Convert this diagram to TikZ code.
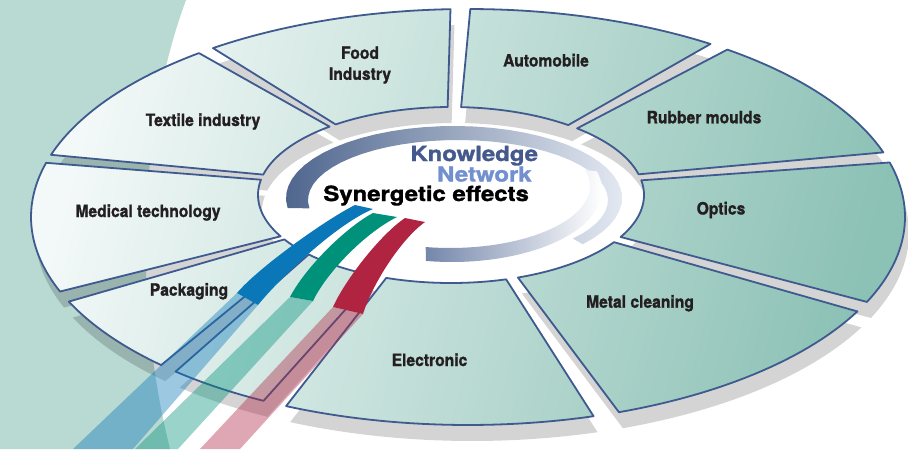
\documentclass[tikz,border=0pt]{standalone}
\usepackage{fontspec}
\setmainfont{TeX Gyre Heros}
\newfontfamily\labelfont[FakeStretch=0.92,FakeBold=1.2]{TeX Gyre Heros}
\newfontfamily\widefont[FakeStretch=1.15,FakeBold=1.5]{TeX Gyre Heros}
\usepackage{xcolor}
\usepackage{tikz}
\usetikzlibrary{calc}
\usetikzlibrary{positioning}

\definecolor{tealbg}{HTML}{B9D9D3}
\definecolor{segline}{HTML}{3E5A8F}
\definecolor{segleft}{HTML}{F3F9F8}
\definecolor{segright}{HTML}{8CC1B5}
\definecolor{knowblue}{HTML}{455A8C}
\definecolor{netblue}{HTML}{7290CF}
\definecolor{ribblue}{HTML}{0A77B8}
\definecolor{ribgreen}{HTML}{00917A}
\definecolor{ribred}{HTML}{B02441}
\definecolor{swdark}{HTML}{4F668E}
\definecolor{swmid}{HTML}{7486AA}
\definecolor{swlight}{HTML}{E3E8F1}
\definecolor{txt}{HTML}{231F20}

% one piece of the ring: outer angles #1..#2, inner angles #3..#4
\newcommand{\ringseg}[4]{plot[domain=#1:#2,samples=30] ({468+437*cos(\x)},{217-208*sin(\x)}) -- plot[domain=#4:#3,samples=30] ({451+193*cos(\x)},{195-88*sin(\x)}) -- cycle}
\newcommand{\allsegs}{%
  \ringseg{164.9}{201}{170}{208}     % medical
  \ringseg{128}{162.6}{129}{166.6}   % textile
  \ringseg{92.3}{125.7}{91}{126.7}   % food
  \ringseg{56.3}{89.7}{52.6}{87}     % automobile
  \ringseg{18.1}{53.6}{13.6}{49.2}   % rubber
  \ringseg{-24.1}{15.2}{-28.5}{9.6}  % optics
  \ringseg{-69.8}{-27}{-69.7}{-32.4} % metal
  \ringseg{-114.6}{-73.3}{-109.6}{-73.4} % electronic
  \ringseg{-132}{-117.9}{-137.5}{-113}   % (no label)
  \ringseg{-156}{-134.6}{-149.7}{-141}   % packaging
}

\begin{document}
\begin{tikzpicture}[x=0.5pt,y=-0.5pt]
  \tikzstyle{lbl}=[font=\labelfont\bfseries\fontsize{8.5}{10.5}\selectfont, text=txt, align=center, inner sep=0pt]
  \tikzstyle{ctr}=[font=\widefont\bfseries\fontsize{10.4}{12}\selectfont, inner sep=0pt]
  \tikzstyle{tail}=[opacity=0.4]
  \useasboundingbox (0,0) rectangle (908,449);
  \fill[white] (0,0) rectangle (908,449);
  % teal band on the left
  \fill[tealbg] (0,0) -- (186,0) .. controls (145,110) and (128,280) .. (170,449) -- (0,449) -- cycle;

  % shadow of the ring
  \fill[black,opacity=0.17,shift={(4,16)}] \allsegs;

  % the ring pieces
  \begin{scope}
    \clip \allsegs;
    \shade[left color=segleft,right color=segright,shading angle=75] (20,0) rectangle (915,440);
  \end{scope}
  \draw[segline,line width=0.9pt,line join=round] \allsegs;

  % swooshes in the middle
  \shade[left color=swdark,right color=swlight] plot[domain=188:-40,samples=40] ({454+168*cos(\x)},{198-72*sin(\x)}) -- plot[domain=-40:188,samples=40] ({458+150*cos(\x)},{200-60*sin(\x)}) -- cycle;
  \shade[left color=swmid,right color=white] plot[domain=-100:15,samples=40] ({452+150*cos(\x)},{190-72*sin(\x)}) -- plot[domain=15:-100,samples=40] ({450+140*cos(\x)},{186-62*sin(\x)}) -- cycle;

  \node[ctr,text=knowblue,anchor=base west] (know) at (410,161) {Knowledge};
  \node[ctr,text=netblue,anchor=base east]  (net)  at (532,181.5) {Network};
  \node[ctr,text=black,anchor=base west]    (syn)  at (323,201) {Synergetic effects};

  % ribbons: see-through tails, then solid heads
  \fill[ribblue,tail]  (237,293) -- (73,449) -- (133,449) -- (258,305) -- cycle;
  \fill[ribgreen,tail] (290,297) -- (135,449) -- (178,449) -- (313,301) -- cycle;
  \fill[ribred,tail]   (333,307) -- (200,449) -- (240,449) -- (363,314) -- cycle;
  \fill[ribblue]  (355,205) .. controls (325,220) and (258,268) .. (237,293) -- (258,305) .. controls (280,278) and (335,225) .. (373,209) -- cycle;
  \fill[ribgreen] (373,213) .. controls (345,228) and (305,268) .. (290,297) -- (313,301) .. controls (327,272) and (365,233) .. (397,217) -- cycle;
  \fill[ribred]   (405,218) .. controls (380,235) and (345,280) .. (333,307) -- (363,314) .. controls (372,285) and (400,240) .. (425,222) -- cycle;

  % labels
  \node[lbl] (food) at (360,65) {Food\\Industry};
  \node[lbl,anchor=base] (auto)    at (546,66.5)  {Automobile};
  \node[lbl,anchor=base] (textile) at (203,126)   {Textile industry};
  \node[lbl,anchor=base] (rubber)  at (704,123.3) {Rubber moulds};
  \node[lbl,anchor=base] (optics)  at (721,214.5) {Optics};
  \node[lbl,anchor=base] (medical) at (148,217)   {Medical technology};
  \node[lbl,anchor=base] (pack)    at (189,295.7) {Packaging};
  \node[lbl,anchor=base] (metal)   at (640,307.7) {Metal cleaning};
  \node[lbl,anchor=base] (elec)    at (429.5,366) {Electronic};
\end{tikzpicture}
\end{document}
